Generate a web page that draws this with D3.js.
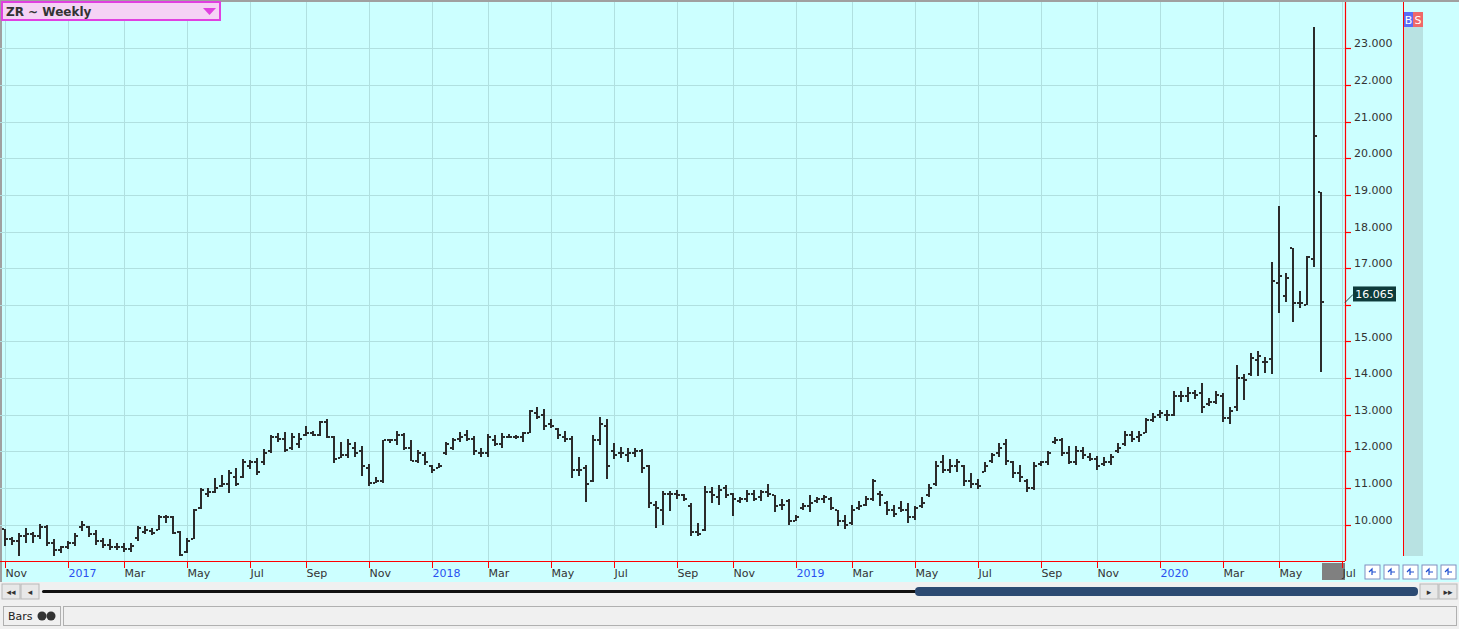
<!DOCTYPE html>
<html><head><meta charset="utf-8">
<script src="https://cdn.jsdelivr.net/npm/d3@7"></script>
<style>
body{margin:0;background:#f0f0f0;overflow:hidden}
svg{display:block;font-family:"DejaVu Sans",Verdana,sans-serif}
</style></head><body>
<svg id="c" width="1459" height="629"></svg>
<script>
// ---- data (weekly bars, ZR rough rice) ----
const symbolTitle = "ZR ~ Weekly";
const firstWeek = new Date(2016, 10, 4); // first weekly bar
const opens = [9.88,9.6,9.55,9.7,9.75,9.7,9.95,9.5,9.3,9.38,
9.5,9.95,9.95,9.75,9.55,9.45,9.4,9.38,9.35,9.65,
9.8,9.82,9.86,10.2,10.2,9.8,9.25,9.6,10.45,10.85,
10.9,11.05,11.1,11.3,11.3,11.6,11.7,11.7,12.0,12.4,
12.35,12.1,12.2,12.45,12.5,12.45,12.8,12.4,11.8,11.9,
12.1,12.0,11.55,11.15,11.2,12.3,12.3,12.45,12.1,11.75,
11.9,11.6,11.55,11.95,12.1,12.35,12.45,12.35,11.95,11.95,
12.3,12.2,12.4,12.4,12.4,12.5,13.05,13.0,12.75,12.6,
12.4,12.35,11.5,11.55,11.2,12.3,12.7,12.0,11.95,11.9,
11.95,12.0,11.6,10.55,10.4,10.85,10.85,10.8,10.5,9.8,
9.85,10.9,10.75,11.0,10.85,10.65,10.7,10.85,10.75,10.9,
10.8,10.55,10.65,10.1,10.45,10.5,10.65,10.7,10.7,10.4,
10.1,10.05,10.45,10.55,10.7,10.85,10.6,10.4,10.45,10.4,
10.2,10.5,10.8,11.1,11.7,11.5,11.6,11.6,11.2,11.1,
11.45,11.75,11.95,12.2,11.7,11.4,11.2,11.0,11.65,11.7,
12.25,12.3,11.95,11.7,12.0,11.85,11.8,11.65,11.7,12.0,
12.2,12.45,12.4,12.5,12.85,13.0,13.0,13.0,13.5,13.5,
13.6,13.6,13.3,13.35,13.5,12.9,13.2,14.0,14.1,14.5,
14.45,14.52,16.59,16.25,17.55,16.05,16.0,17.25,19.09];
const highs = [9.88,9.67,9.78,9.91,9.8,10.01,9.98,9.6,9.42,9.55,
9.78,10.1,9.96,9.85,9.63,9.6,9.51,9.49,9.49,9.97,
9.97,9.91,10.27,10.27,10.23,9.82,9.65,10.44,11.0,11.0,
11.27,11.36,11.5,11.55,11.79,11.77,11.82,12.06,12.45,12.5,
12.53,12.5,12.5,12.7,12.55,12.82,12.89,12.41,12.27,12.34,
12.25,12.14,11.66,11.3,12.32,12.34,12.57,12.5,12.32,12.05,
11.98,11.64,11.68,12.27,12.38,12.53,12.59,12.41,12.09,12.47,
12.45,12.5,12.47,12.45,12.53,13.14,13.2,13.16,12.89,12.64,
12.55,12.41,11.84,11.62,12.45,12.95,12.89,12.23,12.11,12.09,
12.09,12.07,11.64,10.64,10.93,10.93,10.95,10.85,10.59,10.05,
11.05,11.03,11.09,11.09,10.86,10.77,10.94,10.95,10.94,11.12,
10.82,10.7,10.7,10.27,10.59,10.8,10.75,10.82,10.75,10.41,
10.27,10.55,10.64,10.79,11.25,10.91,10.64,10.55,10.64,10.59,
10.52,10.75,11.12,11.75,11.91,11.79,11.79,11.64,11.41,11.25,
11.7,11.97,12.23,12.34,11.73,11.64,11.25,11.7,11.73,12.0,
12.39,12.36,12.14,12.15,12.12,11.95,11.88,11.85,11.94,12.23,
12.55,12.55,12.55,12.91,13.06,13.14,13.12,13.66,13.64,13.75,
13.68,13.86,13.45,13.64,13.6,13.2,14.35,14.1,14.68,14.73,
14.59,17.18,18.7,16.86,17.55,16.39,17.34,23.58,19.09];
const lows = [9.42,9.45,9.15,9.5,9.5,9.6,9.42,9.15,9.24,9.35,
9.42,9.83,9.67,9.45,9.36,9.3,9.3,9.27,9.27,9.56,
9.75,9.73,9.86,10.05,9.75,9.15,9.22,9.6,10.44,10.77,
10.86,11.03,10.86,11.06,11.27,11.52,11.36,11.64,11.95,12.27,
11.98,12.05,12.09,12.41,12.41,12.41,12.36,11.68,11.82,11.82,
11.86,11.32,11.05,11.14,11.14,12.23,12.18,12.05,11.73,11.68,
11.64,11.41,11.55,11.91,12.05,12.27,12.29,11.91,11.86,11.84,
12.14,12.09,12.36,12.35,12.27,12.5,12.89,12.59,12.64,12.34,
12.27,11.27,11.32,10.62,11.16,12.18,11.25,11.8,11.82,11.71,
11.86,11.41,10.47,9.91,9.98,10.38,10.71,10.66,9.68,9.68,
9.82,10.59,10.55,10.73,10.23,10.59,10.61,10.64,10.64,10.77,
10.36,10.41,10.0,10.09,10.41,10.36,10.59,10.59,10.39,9.97,
9.88,10.0,10.39,10.5,10.64,10.5,10.27,10.21,10.36,10.06,
10.14,10.45,10.75,11.06,11.41,11.41,11.45,11.05,11.0,10.97,
11.43,11.68,11.86,11.64,11.27,11.18,10.88,10.95,11.59,11.64,
12.21,11.88,11.66,11.64,11.8,11.75,11.5,11.59,11.64,11.97,
12.15,12.27,12.27,12.5,12.79,12.91,12.82,12.97,13.36,13.36,
13.43,13.06,13.25,13.3,12.8,12.75,13.1,13.4,14.05,14.05,
14.14,14.1,15.77,16.09,15.52,15.91,16.0,17.03,14.18];
const closes = [9.6,9.55,9.7,9.75,9.7,9.95,9.5,9.3,9.38,9.5,
9.7,10.0,9.75,9.55,9.45,9.4,9.38,9.35,9.42,9.9,
9.85,9.78,10.2,10.2,9.78,9.18,9.55,10.4,10.95,10.9,
11.0,11.1,11.4,11.1,11.7,11.7,11.45,11.95,12.4,12.35,
12.05,12.4,12.35,12.5,12.45,12.8,12.4,11.8,11.9,12.2,
11.95,11.6,11.15,11.2,12.3,12.3,12.45,12.1,11.75,11.95,
11.7,11.5,11.6,12.2,12.3,12.4,12.35,12.0,11.95,12.4,
12.2,12.4,12.4,12.4,12.5,13.1,12.95,12.7,12.7,12.45,
12.35,11.5,11.5,11.1,12.3,12.75,11.6,11.9,11.95,11.95,
12.0,11.55,10.6,10.45,10.85,10.85,10.8,10.7,9.8,9.75,
10.9,10.8,10.95,10.8,10.7,10.7,10.85,10.7,10.9,10.85,
10.5,10.55,10.1,10.2,10.5,10.6,10.7,10.75,10.45,10.1,
10.0,10.4,10.5,10.7,11.2,10.8,10.4,10.3,10.4,10.2,
10.45,10.6,11.0,11.6,11.5,11.6,11.7,11.2,11.1,11.05,
11.6,11.9,12.1,11.75,11.4,11.3,11.0,11.6,11.7,11.95,
12.3,11.95,11.7,12.0,11.9,11.8,11.6,11.7,11.85,12.1,
12.45,12.35,12.45,12.85,12.95,13.05,13.0,13.5,13.5,13.6,
13.55,13.2,13.35,13.55,12.9,13.1,14.0,13.95,14.55,14.6,
14.45,16.64,16.79,16.73,16.05,16.05,17.3,20.6,16.065];
const priceTicks = [10,11,12,13,14,15,16,17,18,19,20,21,22,23];
const lastPrice = 16.065;
const monthNames = ["Jan","Feb","Mar","Apr","May","Jun","Jul","Aug","Sep","Oct","Nov","Dec"];

// ---- layout ----
const W = 1459, H = 629;
const plotL = 0, plotR = 1345, plotT = 2, plotB = 561;
const svg = d3.select("#c");
const n = closes.length;
const bars = d3.range(n).map(i => ({
  i, date: d3.timeWeek.offset(firstWeek, i),
  o: opens[i], h: highs[i], l: lows[i], c: closes[i]
}));
const x = d3.scaleLinear().domain([0, n - 1]).range([5, 5 + 7 * (n - 1)]);
const y = d3.scaleLinear().domain([9, 23]).range([561.4, 48.3]);
const py = v => Math.round(y(v));
const ly = y(lastPrice);

// backgrounds
svg.append("rect").attr("width", W).attr("height", H).attr("fill", "#f0f0f0");
svg.append("rect").attr("x", 0).attr("y", 0).attr("width", W).attr("height", 582).attr("fill", "#ccffff");
svg.append("rect").attr("x", 0).attr("y", 0).attr("width", W).attr("height", 2).attr("fill", "#a0a0a0");
svg.append("rect").attr("x", 0).attr("y", 0).attr("width", 2).attr("height", 582).attr("fill", "#a0a0a0");

// month ticks (extend 3 weeks beyond the data for the trailing label)
const tickIdx = d3.range(0, n + 3).filter(i => {
  const d = d3.timeWeek.offset(firstWeek, i);
  if (d.getMonth() % 2 !== 0) return false;
  if (i === 0) return true;
  return d3.timeWeek.offset(firstWeek, i - 1).getMonth() !== d.getMonth();
});
const grid = svg.append("g");
grid.selectAll("line.v").data(tickIdx.filter(d => x(d) < plotR - 2)).join("line")
  .attr("x1", d => x(d) + 0.5).attr("x2", d => x(d) + 0.5)
  .attr("y1", plotT).attr("y2", plotB)
  .attr("stroke", "#b0e0e0").attr("stroke-width", 1);
grid.selectAll("line.h").data(priceTicks).join("line")
  .attr("x1", plotL).attr("x2", plotR)
  .attr("y1", d => py(d) + 0.5).attr("y2", d => py(d) + 0.5)
  .attr("stroke", "#b0e0e0").attr("stroke-width", 1);

// x axis
svg.append("rect").attr("x", 1322).attr("y", 563).attr("width", 23).attr("height", 17).attr("fill", "#808080");
svg.append("line").attr("x1", 0).attr("x2", plotR).attr("y1", 561.5).attr("y2", 561.5).attr("stroke", "#ff0000").attr("stroke-width", 1.2);
const xt = svg.append("g");
xt.selectAll("line").data(tickIdx).join("line")
  .attr("x1", d => x(d) + 0.5).attr("x2", d => x(d) + 0.5).attr("y1", 562).attr("y2", 568)
  .attr("stroke", "#ff0000").attr("stroke-width", 1);
xt.selectAll("text").data(tickIdx).join("text")
  .attr("x", d => x(d) + 0.5).attr("y", 577)
  .attr("font-size", 11)
  .attr("fill", d => d3.timeWeek.offset(firstWeek, d).getMonth() === 0 ? "#2850f0" : "#333")
  .text(d => { const dt = d3.timeWeek.offset(firstWeek, d); return dt.getMonth() === 0 ? dt.getFullYear() : monthNames[dt.getMonth()]; });

// y axis (right)
svg.append("line").attr("x1", plotR + 0.5).attr("x2", plotR + 0.5).attr("y1", plotT).attr("y2", plotB).attr("stroke", "#ff0000").attr("stroke-width", 1.2);
const yt = svg.append("g");
yt.selectAll("line").data(priceTicks).join("line")
  .attr("x1", plotR).attr("x2", plotR + 6)
  .attr("y1", d => py(d) + 0.5).attr("y2", d => py(d) + 0.5)
  .attr("stroke", "#ff0000").attr("stroke-width", 1.2);
// labels hidden behind the last-price box are not drawn (as in the reference)
yt.selectAll("text").data(priceTicks.filter(d => Math.abs((y(d) - 1) - (ly - 9)) > 14)).join("text")
  .attr("x", 1354).attr("y", d => y(d) - 1)
  .attr("font-size", 11).attr("fill", "#333")
  .text(d => d3.format(".3f")(d));

// right strip with B/S
svg.append("line").attr("x1", 1403.5).attr("x2", 1403.5).attr("y1", plotT).attr("y2", 556).attr("stroke", "#ff0000").attr("stroke-width", 1);
svg.append("rect").attr("x", 1404).attr("y", 12).attr("width", 19).attr("height", 544).attr("fill", "#b8e2e2");
svg.append("rect").attr("x", 1404).attr("y", 12).attr("width", 9).attr("height", 15).attr("fill", "#5a6cf5");
svg.append("rect").attr("x", 1413).attr("y", 12).attr("width", 10).attr("height", 15).attr("fill", "#f06868");
svg.append("text").attr("x", 1408.5).attr("y", 24).attr("text-anchor", "middle").attr("font-size", 11).attr("fill", "#fff").text("B");
svg.append("text").attr("x", 1418).attr("y", 24).attr("text-anchor", "middle").attr("font-size", 11).attr("fill", "#fff").text("S");

// OHLC bars
const barsG = svg.append("g").attr("fill", "#2b2b2b");
const cl = (d, v) => Math.max(d.l, Math.min(d.h, v));
barsG.selectAll("rect.hl").data(bars).join("rect")
  .attr("x", d => x(d.i) - 1).attr("width", 2)
  .attr("y", d => py(d.h)).attr("height", d => Math.max(2, py(d.l) - py(d.h)));
barsG.selectAll("rect.o").data(bars).join("rect")
  .attr("x", d => x(d.i) - 3).attr("width", 2)
  .attr("y", d => py(cl(d, d.o)) - 1).attr("height", 2);
barsG.selectAll("rect.c").data(bars).join("rect")
  .attr("x", d => x(d.i) + 1).attr("width", 2)
  .attr("y", d => py(cl(d, d.c)) - 1).attr("height", 2);

// last price marker
svg.append("line").attr("x1", plotR).attr("y1", ly).attr("x2", 1353).attr("y2", ly - 8).attr("stroke", "#1a3a3a").attr("stroke-width", 1);
svg.append("rect").attr("x", 1353).attr("y", ly - 16).attr("width", 43).attr("height", 15).attr("fill", "#0d3b3b");
svg.append("text").attr("x", 1374.5).attr("y", ly - 4.5).attr("text-anchor", "middle").attr("font-size", 11).attr("fill", "#fff").text(d3.format(".3f")(lastPrice));

// title box
svg.append("rect").attr("x", 2).attr("y", 2).attr("width", 218).attr("height", 18).attr("fill", "#f5d2f5").attr("stroke", "#e040e0").attr("stroke-width", 2);
svg.append("text").attr("x", 6).attr("y", 16).attr("font-size", 12).attr("font-weight", "bold").attr("fill", "#333").text(symbolTitle);
svg.append("path").attr("d", "M203,8 L216,8 L209.5,15 Z").attr("fill", "#e040e0");

// right-bottom small buttons
const btnG = svg.append("g");
d3.range(5).forEach(k => {
  const bx = 1365 + k * 19;
  btnG.append("rect").attr("x", bx).attr("y", 565).attr("width", 15).attr("height", 14).attr("fill", "#fff").attr("stroke", "#8090c0");
  btnG.append("path").attr("d", `M${bx+4},${572} l3,-3 l0,6 M${bx+7},572 l4,0`).attr("stroke", "#2050d0").attr("fill", "none").attr("stroke-width", 1.2);
});

// scrollbar
svg.append("rect").attr("x", 0).attr("y", 582).attr("width", W).attr("height", 20).attr("fill", "#f0f0f0");
[[2, "◂◂"], [21, "◂"], [1420, "▸"], [1439, "▸▸"]].forEach(([bx, t]) => {
  svg.append("rect").attr("x", bx).attr("y", 584).attr("width", 18).attr("height", 15).attr("fill", "#e8e8e8").attr("stroke", "#b8b8b8");
  svg.append("text").attr("x", bx + 9).attr("y", 595).attr("text-anchor", "middle").attr("font-size", 9).attr("fill", "#333").text(t);
});
svg.append("rect").attr("x", 42).attr("y", 590).attr("width", 875).attr("height", 3).attr("rx", 1.5).attr("fill", "#111");
svg.append("rect").attr("x", 915).attr("y", 587).attr("width", 503).attr("height", 9).attr("rx", 4).attr("fill", "#2c4a72");

// status bar
svg.append("rect").attr("x", 0).attr("y", 602).attr("width", W).attr("height", 27).attr("fill", "#f0f0f0");
svg.append("rect").attr("x", 3.5).attr("y", 606.5).attr("width", 57).attr("height", 19).attr("fill", "#f0f0f0").attr("stroke", "#b0b0b0");
svg.append("text").attr("x", 8).attr("y", 620).attr("font-size", 11).attr("fill", "#222").text("Bars");
svg.append("circle").attr("cx", 42).attr("cy", 616).attr("r", 4.5).attr("fill", "#333");
svg.append("circle").attr("cx", 51).attr("cy", 616).attr("r", 4.5).attr("fill", "#333");
svg.append("rect").attr("x", 63.5).attr("y", 606.5).attr("width", 1393).attr("height", 19).attr("fill", "#f0f0f0").attr("stroke", "#b0b0b0");
</script>
</body></html>
